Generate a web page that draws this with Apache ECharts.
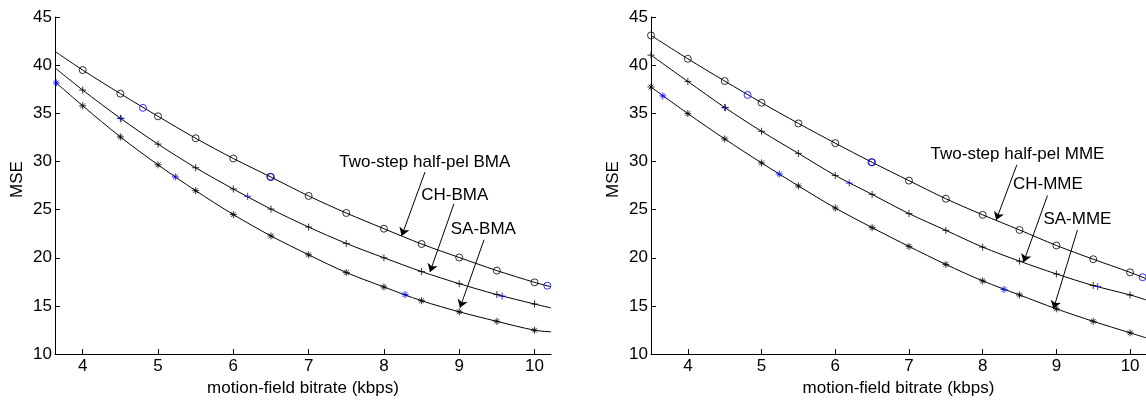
<!DOCTYPE html>
<html><head><meta charset="utf-8">
<script src="https://cdn.jsdelivr.net/npm/echarts@6/dist/echarts.min.js"></script>
<style>html,body{margin:0;padding:0;background:#fff}#c{width:1146px;height:402px}</style>
</head><body><div id="c"></div>
<script>
// ---------- data: left panel (BMA) ----------
const bmaX = [4, 4.5, 5, 5.5, 6, 6.5, 7, 7.5, 8, 8.5, 9, 9.5, 10];
const bmaTwoStep = [39.49, 37.04, 34.69, 32.41, 30.31, 28.38, 26.42, 24.65, 23.02, 21.43, 20.03, 18.67, 17.45];
const bmaCH = [37.41, 34.49, 31.80, 29.35, 27.14, 25.06, 23.19, 21.49, 20.00, 18.57, 17.31, 16.18, 15.20];
const bmaSA = [35.78, 32.55, 29.65, 26.97, 24.49, 22.27, 20.31, 18.47, 16.97, 15.54, 14.39, 13.40, 12.48];
const bmaEdgeX = [3.632, 10.219];
const bmaTwoStepEdge = [41.43, 16.99];
const bmaCHEdge = [39.72, 14.80];
const bmaSAEdge = [38.27, 12.31];
const bmaBlueCircleX = [4.80, 6.49, 10.17];
const bmaBlueCircleY = [35.57, 28.42, 17.10];
const bmaBluePlusX = [4.51, 6.19, 9.57];
const bmaBluePlusY = [34.45, 26.38, 16.02];
const bmaBlueStarX = [3.65, 5.23, 8.28];
const bmaBlueStarY = [38.16, 28.40, 16.18];
const bmaLabels = ['Two-step half-pel BMA', 'CH-BMA', 'SA-BMA'];
const bmaLabelX = [8.543, 8.94, 9.32];
const bmaLabelY = [29.93, 26.51, 22.96];
const bmaArrowFromX = [8.546, 8.93, 9.33];
const bmaArrowFromY = [28.91, 25.61, 21.87];
const bmaArrowToX = [8.236, 8.612, 9.01];
const bmaArrowToY = [22.27, 18.53, 14.80];

// ---------- data: right panel (MME) ----------
const mmeX = [3.5, 4, 4.5, 5, 5.5, 6, 6.5, 7, 7.5, 8, 8.5, 9, 9.5, 10];
const mmeTwoStep = [43.09, 40.66, 38.35, 36.10, 33.95, 31.90, 29.91, 28.01, 26.13, 24.46, 22.89, 21.28, 19.85, 18.49];
const mmeCH = [41.04, 38.31, 35.61, 33.13, 30.84, 28.55, 26.58, 24.59, 22.85, 21.11, 19.65, 18.32, 17.12, 16.14];
const mmeSA = [37.73, 34.97, 32.34, 29.85, 27.46, 25.17, 23.13, 21.18, 19.31, 17.60, 16.14, 14.70, 13.40, 12.21];
const mmeEdgeX = [10.216];
const mmeTwoStepEdge = [17.84];
const mmeCHEdge = [15.63];
const mmeSAEdge = [11.69];
const mmeBlueCircleX = [4.81, 6.49, 10.17];
const mmeBlueCircleY = [36.91, 29.93, 17.98];
const mmeBluePlusX = [4.51, 6.19, 9.56];
const mmeBluePlusY = [35.58, 27.76, 17.02];
const mmeBlueStarX = [3.66, 5.24, 8.29];
const mmeBlueStarY = [36.81, 28.69, 16.71];
const mmeLabels = ['Two-step half-pel MME', 'CH-MME', 'SA-MME'];
const mmeLabelX = [8.472, 8.885, 9.285];
const mmeLabelY = [30.70, 27.61, 24.02];
const mmeArrowFromX = [8.464, 8.879, 9.286];
const mmeArrowFromY = [29.65, 26.47, 22.89];
const mmeArrowToX = [8.183, 8.554, 8.961];
const mmeArrowToY = [23.92, 19.54, 14.70];

// ---------- axes ----------
const xTicks = [4, 5, 6, 7, 8, 9, 10];
const xName = 'motion-field bitrate (kbps)';
const yName = 'MSE';

const FONT = 'Arial, "Liberation Sans", sans-serif';
const FS = 17;
const PLUS = 'path://M0,5L10,5M5,0L5,10';
const STAR = 'path://M0,5L10,5M5,0L5,10M1.6,1.6L8.4,8.4M1.6,8.4L8.4,1.6';
const BLACK = '#000';
const BLUE = '#0000ff';

function pairs(xs, ys) { return xs.map((x, i) => [x, ys[i]]); }

function curve(idx, xs, ys, extra) {
  return Object.assign({
    type: 'line', xAxisIndex: idx, yAxisIndex: idx,
    data: pairs(xs, ys), showSymbol: false, smooth: 0.3,
    lineStyle: { color: BLACK, width: 1 }, silent: true, z: 2
  }, extra || {});
}
function markers(idx, xs, ys, symbol, color, size) {
  return {
    type: 'scatter', xAxisIndex: idx, yAxisIndex: idx,
    data: pairs(xs, ys), symbol: symbol, symbolSize: size,
    itemStyle: { color: 'rgba(0,0,0,0)', borderColor: color, borderWidth: 1 },
    silent: true, z: color === BLUE ? 4 : 3
  };
}
function annotations(labels, lx, ly, fx, fy, tx, ty) {
  return {
    markPoint: {
      symbol: 'circle', symbolSize: 1, silent: true,
      itemStyle: { color: 'rgba(0,0,0,0)' },
      label: { show: true, position: 'inside', color: BLACK, fontSize: FS, fontFamily: FONT, formatter: p => p.name },
      data: labels.map((t, i) => ({ name: t, coord: [lx[i], ly[i]] }))
    },
    markLine: {
      silent: true, symbol: ['none', 'arrow'], symbolSize: 8,
      label: { show: false },
      lineStyle: { color: BLACK, width: 1, type: 'solid' },
      emphasis: { disabled: true },
      data: labels.map((t, i) => [{ coord: [fx[i], fy[i]] }, { coord: [tx[i], ty[i]] }])
    }
  };
}

function xAxis(idx, min, max) {
  return {
    type: 'value', gridIndex: idx, min: min, max: max,
    axisLine: { show: true, onZero: false, lineStyle: { color: BLACK, width: 1 } },
    axisTick: { show: true, inside: true, length: 5, customValues: xTicks, lineStyle: { color: BLACK } },
    axisLabel: { customValues: xTicks, color: BLACK, fontSize: FS, fontFamily: FONT, margin: 4 },
    splitLine: { show: false },
    name: xName, nameLocation: 'middle', nameGap: 19,
    nameTextStyle: { color: BLACK, fontSize: FS, fontFamily: FONT }
  };
}
function yAxis(idx) {
  return {
    type: 'value', gridIndex: idx, min: 10, max: 45, interval: 5,
    axisLine: { show: true, onZero: false, lineStyle: { color: BLACK, width: 1 } },
    axisTick: { show: true, inside: true, length: 5, lineStyle: { color: BLACK } },
    axisLabel: { color: BLACK, fontSize: FS, fontFamily: FONT, margin: 3 },
    splitLine: { show: false },
    name: yName, nameLocation: 'middle', nameGap: 29,
    nameTextStyle: { color: BLACK, fontSize: FS, fontFamily: FONT, padding: [0, 0, 0, 12] }
  };
}

const series = [
  curve(0, [bmaEdgeX[0], ...bmaX, bmaEdgeX[1]], [bmaTwoStepEdge[0], ...bmaTwoStep, bmaTwoStepEdge[1]],
    annotations(bmaLabels, bmaLabelX, bmaLabelY, bmaArrowFromX, bmaArrowFromY, bmaArrowToX, bmaArrowToY)),
  curve(0, [bmaEdgeX[0], ...bmaX, bmaEdgeX[1]], [bmaCHEdge[0], ...bmaCH, bmaCHEdge[1]]),
  curve(0, [bmaEdgeX[0], ...bmaX, bmaEdgeX[1]], [bmaSAEdge[0], ...bmaSA, bmaSAEdge[1]]),
  markers(0, bmaX, bmaTwoStep, 'circle', BLACK, 7),
  markers(0, bmaX, bmaCH, PLUS, BLACK, 7),
  markers(0, bmaX, bmaSA, STAR, BLACK, 7),
  markers(0, bmaBlueCircleX, bmaBlueCircleY, 'circle', BLUE, 7),
  markers(0, bmaBluePlusX, bmaBluePlusY, PLUS, BLUE, 7),
  markers(0, bmaBlueStarX, bmaBlueStarY, STAR, BLUE, 7),

  curve(1, [...mmeX, mmeEdgeX[0]], [...mmeTwoStep, mmeTwoStepEdge[0]],
    annotations(mmeLabels, mmeLabelX, mmeLabelY, mmeArrowFromX, mmeArrowFromY, mmeArrowToX, mmeArrowToY)),
  curve(1, [...mmeX, mmeEdgeX[0]], [...mmeCH, mmeCHEdge[0]]),
  curve(1, [...mmeX, mmeEdgeX[0]], [...mmeSA, mmeSAEdge[0]]),
  markers(1, mmeX, mmeTwoStep, 'circle', BLACK, 7),
  markers(1, mmeX, mmeCH, PLUS, BLACK, 7),
  markers(1, mmeX, mmeSA, STAR, BLACK, 7),
  markers(1, mmeBlueCircleX, mmeBlueCircleY, 'circle', BLUE, 7),
  markers(1, mmeBluePlusX, mmeBluePlusY, PLUS, BLUE, 7),
  markers(1, mmeBlueStarX, mmeBlueStarY, STAR, BLUE, 7)
];

const chart = echarts.init(document.getElementById('c'), null, { renderer: 'canvas' });
chart.setOption({
  animation: false,
  backgroundColor: '#fff',
  textStyle: { fontFamily: FONT },
  grid: [
    { left: 55, top: 17, width: 496, height: 343 },
    { left: 651, top: 17, width: 495, height: 343 }
  ],
  xAxis: [xAxis(0, bmaEdgeX[0], bmaEdgeX[1]), xAxis(1, 3.5, mmeEdgeX[0])],
  yAxis: [yAxis(0), yAxis(1)],
  series: series
});
</script>
</body></html>
